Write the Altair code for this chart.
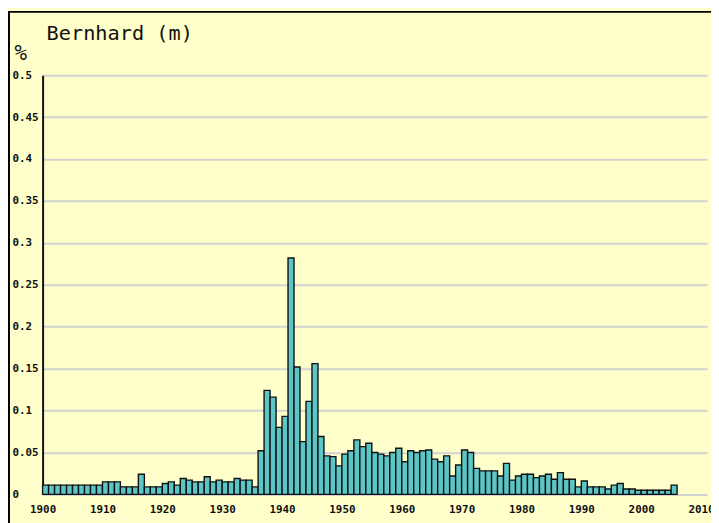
import altair as alt
import pandas as pd

title_text = "Bernhard (m)"
y_unit = "%"

years = list(range(1900, 2006))
values = [
    # 1900-1909
    0.011, 0.011, 0.011, 0.011, 0.011, 0.011, 0.011, 0.011, 0.011, 0.011,
    # 1910-1919
    0.015, 0.015, 0.015, 0.009, 0.009, 0.009, 0.024, 0.009, 0.009, 0.009,
    # 1920-1929
    0.013, 0.015, 0.011, 0.019, 0.017, 0.015, 0.015, 0.021, 0.015, 0.017,
    # 1930-1939
    0.015, 0.015, 0.019, 0.017, 0.017, 0.009, 0.052, 0.124, 0.116, 0.080,
    # 1940-1949
    0.093, 0.282, 0.152, 0.063, 0.111, 0.156, 0.069, 0.046, 0.045, 0.034,
    # 1950-1959
    0.048, 0.052, 0.065, 0.057, 0.061, 0.050, 0.048, 0.046, 0.050, 0.055,
    # 1960-1969
    0.039, 0.052, 0.050, 0.052, 0.053, 0.042, 0.039, 0.046, 0.022, 0.035,
    # 1970-1979
    0.053, 0.050, 0.031, 0.028, 0.028, 0.028, 0.022, 0.037, 0.017, 0.022,
    # 1980-1989
    0.024, 0.024, 0.020, 0.022, 0.024, 0.018, 0.026, 0.018, 0.018, 0.009,
    # 1990-1999
    0.016, 0.009, 0.009, 0.009, 0.0065, 0.011, 0.013, 0.0065, 0.0065, 0.005,
    # 2000-2005
    0.005, 0.005, 0.005, 0.005, 0.005, 0.011,
]

x_ticks = list(range(1900, 2011, 10))
y_ticks = [0, 0.05, 0.1, 0.15, 0.2, 0.25, 0.3, 0.35, 0.4, 0.45, 0.5]

df = pd.DataFrame({"year": years, "value": values})

W, H = 672, 424
MONO = "DejaVu Sans Mono"

bars = (
    alt.Chart(df)
    .transform_calculate(year_end="datum.year + 1")
    .mark_bar(fill="#5CC6C6", stroke="#111111", strokeWidth=1.4, opacity=1)
    .encode(
        x=alt.X(
            "year:Q",
            scale=alt.Scale(domain=[1900, 2011], nice=False, zero=False),
            axis=alt.Axis(
                values=x_ticks, format="d", title=None, grid=False, domain=False,
                ticks=False, tickSize=0, labelPadding=9, labelFont=MONO,
                labelFontWeight="bold", labelFontSize=11, labelColor="#111111",
                labelOverlap=False, labelFlush=False,
            ),
        ),
        x2="year_end:Q",
        y=alt.Y(
            "value:Q",
            scale=alt.Scale(domain=[0, 0.5], nice=False),
            axis=alt.Axis(
                values=y_ticks, format=".2~f", grid=True, gridColor="#D2D2D2",
                gridWidth=2, domain=True, domainColor="#111111", domainWidth=2,
                ticks=False, tickSize=0, labelAlign="left", labelPadding=31,
                labelBaseline="middle", labelFont=MONO, labelFontWeight="bold",
                labelFontSize=11, labelColor="#111111", labelFlush=False,
                title=y_unit, titleAngle=0, titleX=-29, titleY=-16,
                titleAlign="left", titleBaseline="alphabetic", titleFont=MONO,
                titleFontSize=21, titleFontWeight="normal", titleColor="#111111",
            ),
        ),
        y2=alt.datum(0),
    )
)

title = (
    alt.Chart(pd.DataFrame({"t": [title_text]}))
    .mark_text(align="left", baseline="alphabetic", font=MONO, fontSize=20.5,
               fontWeight="normal", color="#111111")
    .encode(text="t:N", x=alt.value(4), y=alt.value(-36))
)

frame = (
    alt.Chart(pd.DataFrame({"k": [0]}))
    .mark_rect(fill=None, stroke="#000000", strokeWidth=2)
    .encode(x=alt.value(-34), x2=alt.value(W + 40), y=alt.value(-64), y2=alt.value(H + 60))
)

chart = (
    alt.layer(bars, title, frame)
    .properties(
        width=W, height=H,
        autosize=alt.AutoSizeParams(type="none"),
        padding={"left": 35, "top": 65, "right": 4, "bottom": 26},
        background="#FFFFCC",
    )
    .configure_view(stroke=None)
)

chart.save("out.html", embed_options={"renderer": "svg", "actions": False})
